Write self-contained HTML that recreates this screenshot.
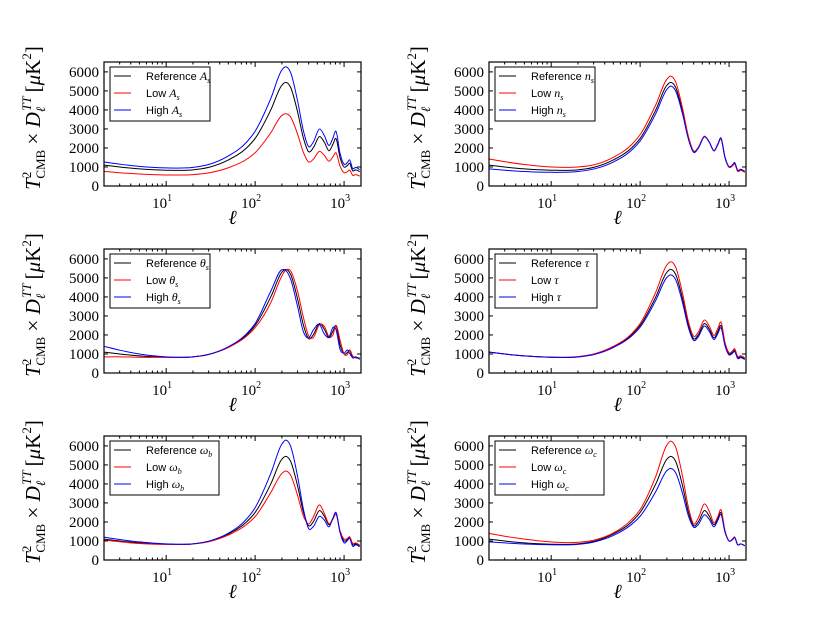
<!DOCTYPE html>
<html><head><meta charset="utf-8"><style>
body{margin:0;background:#fff}
svg{display:block}
text{font-family:"Liberation Serif",serif}
.lg{font-family:"Liberation Sans",sans-serif;font-size:11px}
</style></head><body>
<svg id="fig" width="830" height="623" viewBox="0 0 830 623" xmlns="http://www.w3.org/2000/svg"></svg>
<script>
const ells=[2,3,5,10,20,30,50,80,100,150,200,220,250,300,350,400,450,530,600,680,750,810,900,1000,1100,1150,1250,1350,1500];
const refVals=[1100,1000,900,830,850,980,1370,2000,2500,4000,5300,5450,5200,3900,2500,1800,2000,2600,2300,1850,2200,2500,1500,1000,1100,1200,800,850,750];
const asLow=[770,700,630,580,600,690,960,1400,1750,2800,3710,3800,3640,2730,1750,1260,1400,1820,1610,1300,1540,1750,1050,700,770,840,560,600,520];
const asHigh=[1260,1150,1030,950,980,1130,1580,2300,2880,4600,6100,6270,5980,4480,2880,2070,2300,3000,2650,2130,2530,2880,1730,1150,1260,1380,920,980,860];
const nsLow=[1420,1280,1130,1000,1000,1110,1510,2170,2700,4270,5620,5780,5490,4080,2590,1840,2030,2620,2300,1840,2180,2470,1470,980,1070,1160,770,820,720];
const nsHigh=[900,830,760,720,760,890,1260,1880,2370,3810,5080,5250,5010,3780,2440,1770,1980,2590,2300,1860,2220,2530,1520,1020,1130,1240,830,880,780];
const thLow=[850,850,830,820,850,980,1340,1930,2380,3700,5100,5400,5380,4300,2900,1950,1850,2550,2450,1900,2000,2500,1750,1000,1000,1200,900,800,800];
const thHigh=[1400,1200,1000,850,850,970,1380,2060,2600,4300,5430,5400,4950,3500,2150,1850,2250,2550,2050,1900,2400,2300,1250,1050,1200,1050,800,820,720];
const tauLow=[1100,1000,900,830,860,1000,1400,2060,2600,4250,5680,5850,5580,4180,2680,1930,2140,2790,2460,1980,2360,2680,1610,1070,1180,1290,860,910,800];
const tauHigh=[1100,1000,900,830,840,965,1340,1940,2410,3820,5030,5160,4920,3690,2370,1710,1900,2470,2180,1760,2090,2380,1430,950,1050,1140,760,810,710];
const wbLow=[1050,960,870,820,840,960,1310,1860,2280,3550,4550,4680,4470,3400,2300,1900,2250,2900,2450,1900,2150,2400,1550,1100,1150,1230,880,900,780];
const wbHigh=[1200,1080,950,850,850,990,1410,2150,2750,4550,6100,6300,6000,4400,2650,1650,1750,2300,2100,1750,2200,2500,1450,900,1050,1150,720,800,700];
const wcLow=[1400,1250,1100,950,930,1040,1420,2120,2650,4400,6050,6250,5950,4400,2750,1900,2200,2950,2550,1950,2300,2650,1550,1000,1120,1220,800,850,750];
const wcHigh=[950,900,840,800,820,940,1290,1870,2300,3600,4700,4820,4600,3500,2300,1720,1860,2380,2130,1750,2100,2400,1460,1000,1080,1180,800,850,750];
const yTicks=[0,1000,2000,3000,4000,5000,6000];
const xTicks=[10,100,1000];
const panels=[
 {name:'as',sym:'A',sub:'s',low:asLow,high:asHigh,x:104,y:62,lw:100},
 {name:'ns',sym:'n',sub:'s',low:nsLow,high:nsHigh,x:489,y:62,lw:100},
 {name:'theta',sym:'θ',sub:'s',low:thLow,high:thHigh,x:104,y:249,lw:100},
 {name:'tau',sym:'τ',sub:'',low:tauLow,high:tauHigh,x:489,y:249,lw:102},
 {name:'omega-b',sym:'ω',sub:'b',low:wbLow,high:wbHigh,x:104,y:436,lw:109},
 {name:'omega-c',sym:'ω',sub:'c',low:wcLow,high:wcHigh,x:489,y:436,lw:109}];
const W=257,H=124,XMIN=2,XMAX=1550,YMAX=6520;
const NS='http://www.w3.org/2000/svg';
const fig=document.getElementById('fig');
function mk(tag,attrs,parent){const e=document.createElementNS(NS,tag);for(const k in attrs)e.setAttribute(k,attrs[k]);parent.appendChild(e);return e;}
function path(pts){const n=pts.length,m=[];
 for(let i=0;i<n;i++){
  if(i==0){m.push((pts[1][1]-pts[0][1])/(pts[1][0]-pts[0][0]));continue;}
  if(i==n-1){m.push((pts[n-1][1]-pts[n-2][1])/(pts[n-1][0]-pts[n-2][0]));continue;}
  const h0=pts[i][0]-pts[i-1][0],h1=pts[i+1][0]-pts[i][0];
  const d0=(pts[i][1]-pts[i-1][1])/h0,d1=(pts[i+1][1]-pts[i][1])/h1;
  m.push((d0*h1+d1*h0)/(h0+h1));}
 let d='M'+pts[0][0].toFixed(2)+','+pts[0][1].toFixed(2);
 for(let i=0;i<n-1;i++){const h=pts[i+1][0]-pts[i][0];
  const c1=[pts[i][0]+h/3,pts[i][1]+m[i]*h/3],c2=[pts[i+1][0]-h/3,pts[i+1][1]-m[i+1]*h/3];
  d+=' C'+c1[0].toFixed(2)+','+c1[1].toFixed(2)+' '+c2[0].toFixed(2)+','+c2[1].toFixed(2)+' '+pts[i+1][0].toFixed(2)+','+pts[i+1][1].toFixed(2);}
 return d;}
panels.forEach(p=>{
 const g=mk('g',{},fig);
 
 
 const sx=v=>p.x+(Math.log10(v)-Math.log10(XMIN))/(Math.log10(XMAX)-Math.log10(XMIN))*W;
 const sy=v=>p.y+H-v/YMAX*H;
 const defs=mk('defs',{},g);const cp=mk('clipPath',{id:'c'+p.name},defs);mk('rect',{x:p.x,y:p.y,width:W,height:H},cp);
 const cg=mk('g',{'clip-path':'url(#c'+p.name+')'},g);
 [[refVals,'#000','reference'],[p.low,'#f00','low'],[p.high,'#00f','high']].forEach(s=>{
  const pts=ells.map((l,i)=>[sx(l),sy(s[0][i])]);
  const e=mk('path',{d:path(pts),fill:'none',stroke:s[1],'stroke-width':1},cg);
  
  
 });
 const fr=mk('rect',{x:p.x,y:p.y,width:W,height:H,fill:'none',stroke:'#000','stroke-width':1.2},g);
 
 
 yTicks.forEach(t=>{const y=sy(t);
  mk('line',{x1:p.x,x2:p.x+4,y1:y,y2:y,stroke:'#000'},g);mk('line',{x1:p.x+W,x2:p.x+W-4,y1:y,y2:y,stroke:'#000'},g);
  const tx=mk('text',{x:p.x-5,y:y+5,'text-anchor':'end','font-size':15},g);tx.textContent=t;
  
  });
 for(let d=1;d<=1000;d*=10)for(let k=1;k<10;k++){const v=d*k;if(v<XMIN||v>XMAX)continue;const x=sx(v),L=k==1?5:2.5;
  mk('line',{x1:x,x2:x,y1:p.y+H,y2:p.y+H-L,stroke:'#000'},g);mk('line',{x1:x,x2:x,y1:p.y,y2:p.y+L,stroke:'#000'},g);}
 xTicks.forEach(t=>{const x=sx(t);const tx=mk('text',{x:x-4,y:p.y+H+22,'text-anchor':'middle','font-size':15},g);
  tx.innerHTML='10<tspan dy="-7" font-size="10">'+Math.round(Math.log10(t))+'</tspan>';
  
  });
 const xl=mk('text',{x:p.x+W/2,y:p.y+H+38,'text-anchor':'middle','font-size':20,'font-style':'italic'},g);xl.textContent='ℓ';
 
 
 const yl=mk('text',{transform:'translate('+(p.x-64)+','+(p.y+H/2-6)+') rotate(-90)','text-anchor':'middle','font-size':21},g);
 yl.innerHTML='<tspan font-style="italic">T</tspan><tspan font-size="13" dy="-9">2</tspan><tspan font-size="13" dx="-7" dy="14">CMB</tspan><tspan dy="-5"> × </tspan><tspan font-style="italic">D</tspan><tspan font-size="13" font-style="italic" dy="5">ℓ</tspan><tspan font-size="13" font-style="italic" dx="-4" dy="-14">TT</tspan><tspan dx="4" dy="9">[</tspan><tspan font-style="italic">μ</tspan>K<tspan font-size="13" dy="-9">2</tspan><tspan dy="9">]</tspan>';
 
 
 const lg=mk('g',{},g);
 
 
 mk('rect',{x:p.x+6,y:p.y+5,width:p.lw,height:54,fill:'#fff',stroke:'#000','stroke-width':1},lg);
 [['Reference','#000'],['Low','#f00'],['High','#00f']].forEach((e,i)=>{const y=p.y+14+i*17;
  mk('line',{x1:p.x+10,x2:p.x+27,y1:y,y2:y,stroke:e[1]},lg);
  const t=mk('text',{x:p.x+42,y:y+4,class:'lg'},lg);
  t.innerHTML=e[0]+' <tspan font-family="Liberation Serif" font-style="italic" font-size="12">'+p.sym+'</tspan>'+(p.sub?'<tspan font-family="Liberation Serif" font-style="italic" font-size="8" dy="3">'+p.sub+'</tspan>':'');
  
  });
});
</script>
</body></html>
